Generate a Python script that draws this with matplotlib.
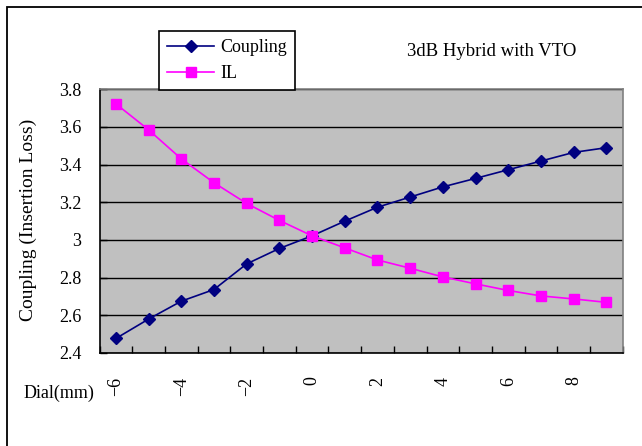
import matplotlib
matplotlib.use("Agg")
import matplotlib.pyplot as plt
from matplotlib.patches import Rectangle
import numpy as np

dial = [-6, -5, -4, -3, -2, -1, 0, 1, 2, 3, 4, 5, 6, 7, 8, 9]
coupling = [2.477, 2.58, 2.675, 2.737, 2.873, 2.955, 3.022, 3.10, 3.174, 3.228,
            3.282, 3.327, 3.373, 3.419, 3.465, 3.49]
il = [3.723, 3.585, 3.431, 3.304, 3.194, 3.104, 3.022, 2.958, 2.894, 2.85,
      2.804, 2.767, 2.732, 2.703, 2.687, 2.669]
x_labels = [-6, -4, -2, 0, 2, 4, 6, 8]
y_ticks = [2.4, 2.6, 2.8, 3.0, 3.2, 3.4, 3.6, 3.8]
y_labels = ["2.4", "2.6", "2.8", "3", "3.2", "3.4", "3.6", "3.8"]

plt.rcParams['font.family'] = ['Liberation Serif', 'DejaVu Serif']

W, H = 642, 446
fig = plt.figure(figsize=(W / 100, H / 100), dpi=100)

def fx(px):
    return px / W

def fy(py):
    return 1 - py / H

left, right, top, bottom = 99.5, 622.7, 89.3, 353.0
ax = fig.add_axes([fx(left), fy(bottom), fx(right) - fx(left), (bottom - top) / H])
ax.set_facecolor('#C0C0C0')

ax.plot(dial, coupling, color='#000080', marker='D', markersize=6.5, lw=1.2,
        label='Coupling', zorder=3)
ax.plot(dial, il, color='#FF00FF', marker='s', markersize=7, lw=1.2,
        label='IL', zorder=3)

ax.set_xlim(dial[0] - 0.5, dial[-1] + 0.5)
ax.set_ylim(2.4, 3.8)
ax.set_yticks(y_ticks)
ax.set_yticklabels(y_labels, fontsize=13)
ax.set_xticks(x_labels)
ax.set_xticklabels([str(v).replace('-', '\u2212') for v in x_labels], rotation=90, fontsize=13)
ax.set_xticks(np.arange(dial[0] - 0.5, dial[-1] + 0.6, 1.0), minor=True)
ax.tick_params(axis='x', which='major', length=0, pad=17)
ax.tick_params(axis='x', which='minor', direction='in', length=5, width=1, color='black')
ax.tick_params(axis='y', which='major', direction='in', length=5, width=1, pad=13)
ax.yaxis.grid(True, color='black', lw=1)
ax.set_axisbelow(True)

for s in ['left', 'bottom']:
    ax.spines[s].set_color('black')
    ax.spines[s].set_linewidth(1.2)
for s in ['top', 'right']:
    ax.spines[s].set_color('#808080')
    ax.spines[s].set_linewidth(1.2)

ax.set_ylabel('Coupling (Insertion Loss)', fontsize=14)
ax.yaxis.set_label_coords(fx(37), fy(220), transform=fig.transFigure)

fig.text(fx(24), fy(393), 'Dial(mm)', fontsize=13, ha='left', va='center')
fig.text(fx(407), fy(51), '3dB Hybrid with VTO', fontsize=13.5, ha='left', va='center')

leg = ax.legend(loc='upper left', bbox_to_anchor=(fx(159), fy(31)),
                bbox_transform=fig.transFigure, borderaxespad=0,
                fancybox=False, edgecolor='black', framealpha=1, fontsize=13,
                handlelength=2.6, handletextpad=0.35, labelspacing=0.5, borderpad=0.45)
leg.get_frame().set_linewidth(1.2)

fig.patches.append(Rectangle((fx(7), fy(470)), fx(700), fy(7) - fy(470),
                             transform=fig.transFigure, fill=False,
                             edgecolor='black', lw=1.3))

fig.savefig('out.png', dpi=100)
